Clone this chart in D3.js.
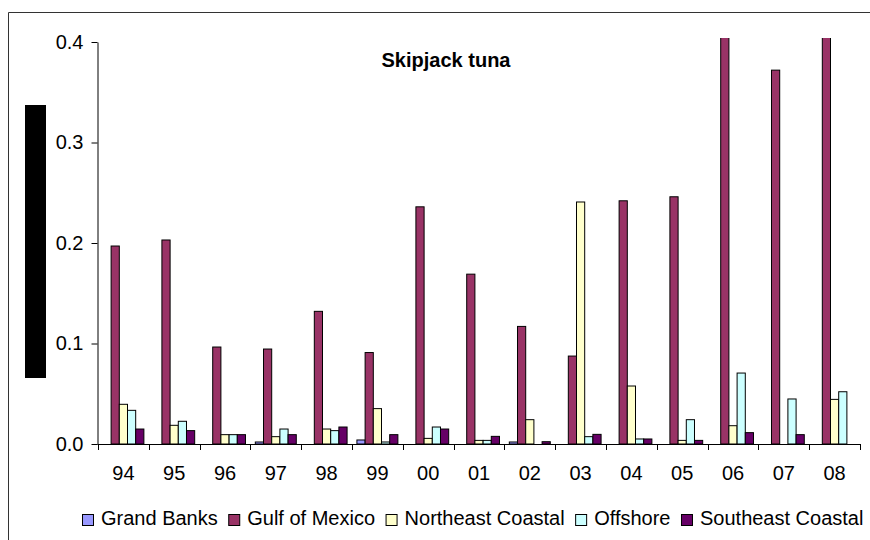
<!DOCTYPE html>
<html><head><meta charset="utf-8">
<script src="https://cdn.jsdelivr.net/npm/d3@7"></script>
<style>
html,body{margin:0;padding:0;background:#fff;overflow:hidden;}
svg{display:block;font-family:"Liberation Sans",Arial,sans-serif;}
</style></head>
<body>
<svg id="chart" width="870" height="540"></svg>
<script>
const categories = ["94","95","96","97","98","99","00","01","02","03","04","05","06","07","08"];
const seriesNames = ["Grand Banks","Gulf of Mexico","Northeast Coastal","Offshore","Southeast Coastal"];
const seriesColors = ["#9999FF","#993366","#FFFFCC","#CCFFFF","#660066"];
const grandBanks       = [0,0,0,0.002,0,0.004,0,0,0.002,0,0,0,0,0,0];
const gulfOfMexico     = [0.197,0.203,0.0965,0.0945,0.132,0.091,0.236,0.169,0.117,0.0875,0.242,0.246,0.42,0.372,0.42];
const northeastCoastal = [0.0395,0.0186,0.0093,0.0073,0.0149,0.0352,0.0056,0.0036,0.0242,0.2408,0.0577,0.0036,0.0182,0,0.0444];
const offshore         = [0.0335,0.0226,0.0093,0.0149,0.0133,0.002,0.0169,0.0036,0,0.0073,0.005,0.0242,0.0706,0.0448,0.052];
const southeastCoastal = [0.0149,0.0133,0.0093,0.0093,0.0169,0.0093,0.0149,0.0076,0.0023,0.0096,0.005,0.0036,0.0113,0.0093,0];
const yTicks = [0,0.1,0.2,0.3,0.4];
const title = "Skipjack tuna";

const seriesValues = [grandBanks,gulfOfMexico,northeastCoastal,offshore,southeastCoastal];
const svg = d3.select("#chart");
const FS = 20;

// outer chart frame (top and left edges visible; the rest runs off the picture)
svg.append("path").attr("d","M8.5,540 V12.5 H870")
  .attr("fill","none").attr("stroke","#333").attr("stroke-width",1);

// redacted axis title block
svg.append("rect").attr("x",25).attr("y",105).attr("width",21).attr("height",273).attr("fill","#000");

const plotLeft = 98, plotRight = 860, plotTop = 42, plotBottom = 444;
const x0 = d3.scaleBand().domain(categories).range([plotLeft, plotRight]).padding(0);
const x1 = d3.scaleBand().domain(seriesNames).range([0, x0.bandwidth()]).paddingInner(0).paddingOuter(0.6);
const y = d3.scaleLinear().domain([0,0.4]).range([plotBottom, plotTop]);

svg.append("defs").append("clipPath").attr("id","clip")
  .append("rect").attr("x",plotLeft).attr("y",38).attr("width",plotRight-plotLeft+2).attr("height",plotBottom-38);

const bars = [];
categories.forEach((c,ci)=>{
  seriesNames.forEach((s,si)=>{
    const v = seriesValues[si][ci];
    if (v > 0) bars.push({c, s, v, color: seriesColors[si]});
  });
});

svg.append("g").attr("clip-path","url(#clip)")
  .selectAll("rect").data(bars).join("rect")
  .attr("x", d => x0(d.c) + x1(d.s))
  .attr("y", d => y(d.v))
  .attr("width", x1.bandwidth())
  .attr("height", d => y(0) - y(d.v))
  .attr("fill", d => d.color)
  .attr("stroke", "#000").attr("stroke-width", 1);

// y axis
const yAxis = svg.append("g").attr("transform",`translate(${plotLeft-0.5},0)`)
  .call(d3.axisLeft(y).tickValues(yTicks).tickFormat(d3.format(".1f")).tickSize(6).tickSizeOuter(0).tickPadding(8));
yAxis.select(".domain").attr("stroke","#000");
yAxis.selectAll("text").attr("font-size",FS).attr("fill","#000").attr("font-family","Liberation Sans, Arial, sans-serif");

// x axis
const xg = svg.append("g");
xg.append("line").attr("x1",plotLeft-0.5).attr("x2",plotRight+0.5).attr("y1",plotBottom+0.5).attr("y2",plotBottom+0.5).attr("stroke","#000");
const bounds = categories.map(c=>x0(c)).concat([plotRight]);
xg.selectAll("line.tick").data(bounds).join("line").attr("class","tick")
  .attr("x1",d=>Math.round(d)+0.5).attr("x2",d=>Math.round(d)+0.5)
  .attr("y1",plotBottom).attr("y2",plotBottom+6).attr("stroke","#000");
xg.selectAll("text").data(categories).join("text")
  .attr("x",d=>x0(d)+x0.bandwidth()/2).attr("y",480)
  .attr("text-anchor","middle").attr("font-size",FS).text(d=>d);

// title
svg.append("text").attr("x",446).attr("y",67).attr("text-anchor","middle")
  .attr("font-size",FS).attr("font-weight","bold").text(title);

// legend
const lg = svg.append("g");
let lx = 82;
seriesNames.forEach((s,i)=>{
  lg.append("rect").attr("x",lx+0.5).attr("y",514.5).attr("width",11).attr("height",11)
    .attr("fill",seriesColors[i]).attr("stroke","#000").attr("stroke-width",1);
  const t = lg.append("text").attr("x",lx+19).attr("y",525).attr("font-size",FS).text(s);
  lx += 19 + t.node().getComputedTextLength() + 10.5;
});
</script>
</body></html>
